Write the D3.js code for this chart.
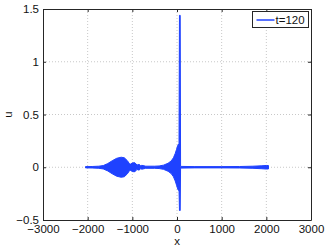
<!DOCTYPE html>
<html>
<head>
<meta charset="utf-8">
<script src="https://cdn.jsdelivr.net/npm/d3@7"></script>
<style>
  body { margin: 0; background: #fff; }
  svg { display: block; font-family: "Liberation Sans", Arial, sans-serif; }
</style>
</head>
<body>
<div id="chart"></div>
<script>
// envelope of u(x) at t=120
const xs     = [-2048, -1900, -1750, -1650, -1550, -1450, -1350, -1250, -1180, -1110, -1060, -1040, -990, -940, -895, -870, -840, -815, -790, -760, -700, -500, -400, -300, -200, -130, -80, -40, -10, 15, 35, 45, 55, 72, 80, 400, 1000, 1400, 1700, 1900, 2000, 2048]
const uUpper = [0.006, 0.007, 0.01, 0.016, 0.035, 0.062, 0.085, 0.095, 0.09, 0.062, 0.03, 0.03, 0.042, 0.042, 0.02, 0.026, 0.026, 0.012, 0.018, 0.016, 0.01, 0.01, 0.012, 0.02, 0.038, 0.06, 0.09, 0.13, 0.17, 0.205, 0.22, 0.2, 1.44, 1.44, 0.008, 0.006, 0.006, 0.007, 0.01, 0.014, 0.017, 0.016]
const uLower = [-0.006, -0.007, -0.01, -0.016, -0.035, -0.062, -0.085, -0.095, -0.09, -0.062, -0.03, -0.03, -0.042, -0.042, -0.02, -0.026, -0.026, -0.012, -0.018, -0.016, -0.01, -0.01, -0.012, -0.02, -0.038, -0.06, -0.09, -0.13, -0.17, -0.205, -0.22, -0.2, -0.41, -0.41, -0.008, -0.006, -0.006, -0.007, -0.01, -0.014, -0.017, -0.016]

const xTicks = [-3000, -2000, -1000, 0, 1000, 2000, 3000]
const yTicks = [-0.5, 0, 0.5, 1, 1.5]
const seriesName = 't=120'

const W = 327, H = 249
const margin = { top: 9, right: 16, bottom: 29, left: 43 }
const iw = W - margin.left - margin.right
const ih = H - margin.top - margin.bottom
const blue = '#1f42ff'
const fs = '11.5px'

const svg = d3.select('#chart').append('svg')
  .attr('width', W).attr('height', H)

const g = svg.append('g').attr('transform', `translate(${margin.left},${margin.top})`)

const x = d3.scaleLinear().domain([-3000, 3000]).range([0, iw])
const y = d3.scaleLinear().domain([-0.5, 1.5]).range([ih, 0])

// grid
g.append('g').selectAll('line').data(xTicks.slice(1, -1)).join('line')
  .attr('x1', d => x(d)).attr('x2', d => x(d))
  .attr('y1', 0).attr('y2', ih)
  .attr('stroke', '#c8c8c8').attr('stroke-width', 1).attr('stroke-dasharray', '1,2')
g.append('g').selectAll('line').data(yTicks.slice(1, -1)).join('line')
  .attr('y1', d => y(d)).attr('y2', d => y(d))
  .attr('x1', 0).attr('x2', iw)
  .attr('stroke', '#c8c8c8').attr('stroke-width', 1).attr('stroke-dasharray', '1,2')

// data
const data = xs.map((v, i) => ({ x: v, hi: uUpper[i], lo: uLower[i] }))
const area = d3.area()
  .x(d => x(d.x))
  .y0(d => y(d.lo))
  .y1(d => y(d.hi))
g.append('path').datum(data)
  .attr('d', area)
  .attr('fill', blue)
  .attr('stroke', blue)
  .attr('stroke-width', 1)
  .attr('stroke-linejoin', 'round')

// axes (matlab style, ticks inward)
const fmt = d => d < 0 ? '\u2212' + Math.abs(d) : d
const xAxis = g.append('g').attr('transform', `translate(0,${ih})`)
  .call(d3.axisBottom(x).tickValues(xTicks).tickSizeInner(-3).tickSizeOuter(0).tickPadding(6).tickFormat(fmt))
const yAxis = g.append('g')
  .call(d3.axisLeft(y).tickValues(yTicks).tickSizeInner(-3).tickSizeOuter(0).tickPadding(4).tickFormat(fmt))
const xTop = g.append('g')
  .call(d3.axisTop(x).tickValues(xTicks).tickSizeInner(-3).tickSizeOuter(0).tickFormat(''))
const yRight = g.append('g').attr('transform', `translate(${iw},0)`)
  .call(d3.axisRight(y).tickValues(yTicks).tickSizeInner(-3).tickSizeOuter(0).tickFormat(''))

;[xAxis, yAxis, xTop, yRight].forEach(a => {
  a.select('.domain').attr('stroke', '#262626')
  a.selectAll('.tick line').attr('stroke', '#262626')
  a.selectAll('text').attr('fill', '#111').style('font-size', fs)
})
xAxis.selectAll('text').attr('dy', '0.6em')

// axis labels
svg.append('text')
  .attr('x', margin.left + x(0)).attr('y', 245)
  .attr('text-anchor', 'middle')
  .style('font-size', fs).attr('fill', '#111')
  .text('x')
svg.append('text')
  .attr('transform', `translate(12,${margin.top + y(0.5)}) rotate(-90)`)
  .attr('text-anchor', 'middle')
  .style('font-size', fs).attr('fill', '#111')
  .text('u')

// legend
const lg = svg.append('g').attr('transform', 'translate(252.5,11.5)')
lg.append('rect').attr('width', 56).attr('height', 16)
  .attr('fill', '#fff').attr('stroke', '#262626').attr('stroke-width', 1)
lg.append('line').attr('x1', 4).attr('x2', 22).attr('y1', 8.5).attr('y2', 8.5)
  .attr('stroke', blue).attr('stroke-width', 1.5)
lg.append('text').attr('x', 23).attr('y', 12.5)
  .style('font-size', fs).attr('fill', '#111')
  .text(seriesName)
</script>
</body>
</html>
